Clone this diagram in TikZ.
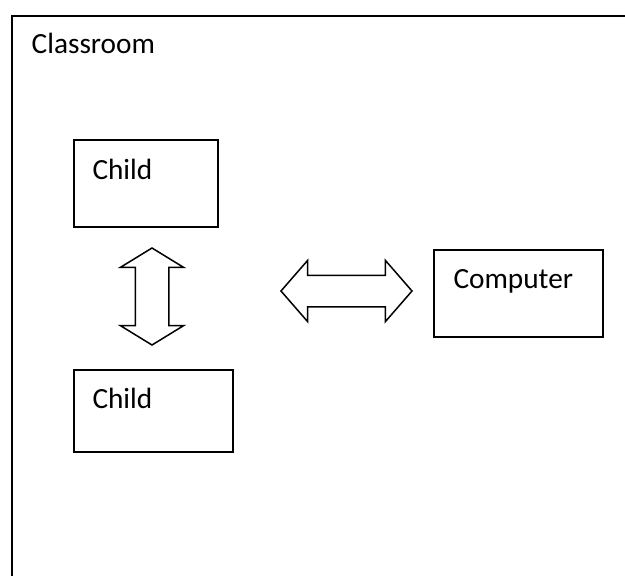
\documentclass[tikz,border=0pt]{standalone}
\usepackage{fontspec}
\setmainfont{Carlito}
\usetikzlibrary{shapes.arrows}

\begin{document}
\begin{tikzpicture}[x=1pt,y=-1pt,font=\fontsize{29.3}{35}\selectfont,
  wall/.style={line width=2pt},
  box/.style={draw,line width=2pt,anchor=north west,inner ysep=0pt,align=left},
  swap/.style={draw,double arrow,line width=1.5pt,inner xsep=0pt,double arrow head extend=15pt}]
  \useasboundingbox (0,0) rectangle (625,576);
  \clip (0,0) rectangle (625,576);
  \coordinate (corner) at (11.5,15.5);
  \draw [wall] (11.5,600) -- (corner) -- (680,15.5);
  \node [anchor=base west,inner sep=0pt] (room) at (31.5,53.5) {Classroom};
  \node [box,inner xsep=18.5pt,text width=107pt,text height=39pt,text depth=48pt] (child1) at (73,139) {Child};
  \node [box,inner xsep=18.5pt,text width=122pt,text height=38pt,text depth=44pt] (child2) at (73,369) {Child};
  \node [box,inner xsep=19.5pt,text width=130pt,text height=38pt,text depth=49pt] (computer) at (433,249) {Computer};
  \node [swap,rotate=90,inner ysep=16pt,minimum height=97pt,double arrow tip angle=117] (talk) at (152,296.5) {};
  \node [swap,inner ysep=15pt,minimum height=131pt,double arrow tip angle=98] (use) at (346.5,291) {};
\end{tikzpicture}
\end{document}
